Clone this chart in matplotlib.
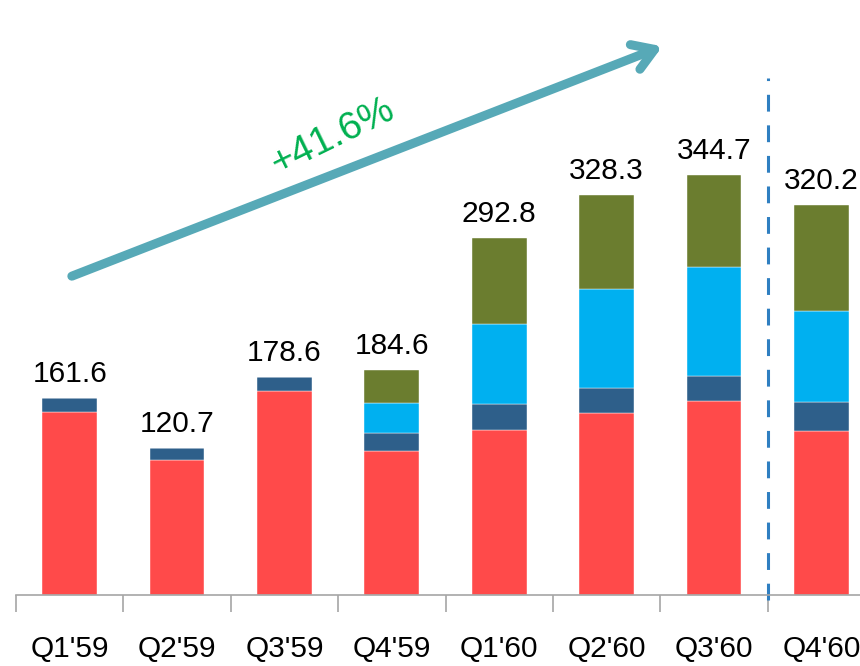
"""Stacked quarterly bars with growth arrow."""

import numpy as np
import matplotlib.pyplot as plt

plt.rcParams['font.family'] = ['Liberation Sans', 'DejaVu Sans']

quarters = ["Q1'59", "Q2'59", "Q3'59", "Q4'59", "Q1'60", "Q2'60", "Q3'60", "Q4'60"]
seg_red = [150.1, 110.7, 167.3, 118.1, 135.4, 149.3, 159.1, 134.5]
seg_navy = [11.5, 10.0, 11.3, 14.8, 21.3, 20.5, 20.5, 23.8]
seg_sky = [0, 0, 0, 24.6, 65.6, 81.2, 89.4, 74.6]
seg_olive = [0, 0, 0, 27.1, 70.5, 77.3, 75.7, 87.3]
totals = [161.6, 120.7, 178.6, 184.6, 292.8, 328.3, 344.7, 320.2]
growth_label = "+41.6%"

colors = ['#FF4A4A', '#2E5F8A', '#00B0F0', '#6B7D2F']

fig = plt.figure(figsize=(8.6, 6.66), dpi=100)
ax = fig.add_axes([16 / 860, 71 / 666, 844 / 860, 595 / 666])

x = np.arange(len(quarters))
bottom = np.zeros(len(quarters))
for seg, col in zip([seg_red, seg_navy, seg_sky, seg_olive], colors):
    seg = np.array(seg)
    ax.bar(x, seg, width=0.51, bottom=bottom, color=col,
           edgecolor='white', linewidth=0.3)
    bottom += seg

for xi, tot in zip(x, totals):
    ax.text(xi, tot + 8, f'{tot:.1f}', ha='center', va='bottom', fontsize=21.5)

# category boundaries as ticks, labels centred below
ax.set_xticks(np.arange(-0.5, len(quarters), 1.0))
ax.set_xticklabels([])
ax.set_xticks(x, minor=True)
ax.set_xticklabels(quarters, minor=True, fontsize=21.5)
ax.tick_params(axis='x', which='major', length=12, color='#A6A6A6', width=1.2)
ax.tick_params(axis='x', which='minor', length=0, pad=29)
ax.set_yticks([])
for side in ['top', 'right', 'left']:
    ax.spines[side].set_visible(False)
ax.spines['bottom'].set_color('#A6A6A6')
ax.spines['bottom'].set_linewidth(1.2)

ax.set_xlim(-0.5, 7.36)
ax.set_ylim(0, 488)

# forecast divider
ax.plot([6.5, 6.5], [-4, 424], color='#2F7FC1', lw=2.2,
        linestyle=(0, (5.5, 4.5)), clip_on=False)

# growth arrow
ax.annotate('', xy=(5.52, 450), xytext=(0.02, 261.5),
            arrowprops=dict(arrowstyle='->,head_length=1.5,head_width=0.95',
                            color='#57A9B7', lw=6.5, capstyle='round',
                            joinstyle='round', shrinkA=0, shrinkB=0))
ax.text(2.45, 376, growth_label, color='#00B050', fontsize=28,
        rotation=26, ha='center', va='center')

fig.savefig('out.png', dpi=100)
